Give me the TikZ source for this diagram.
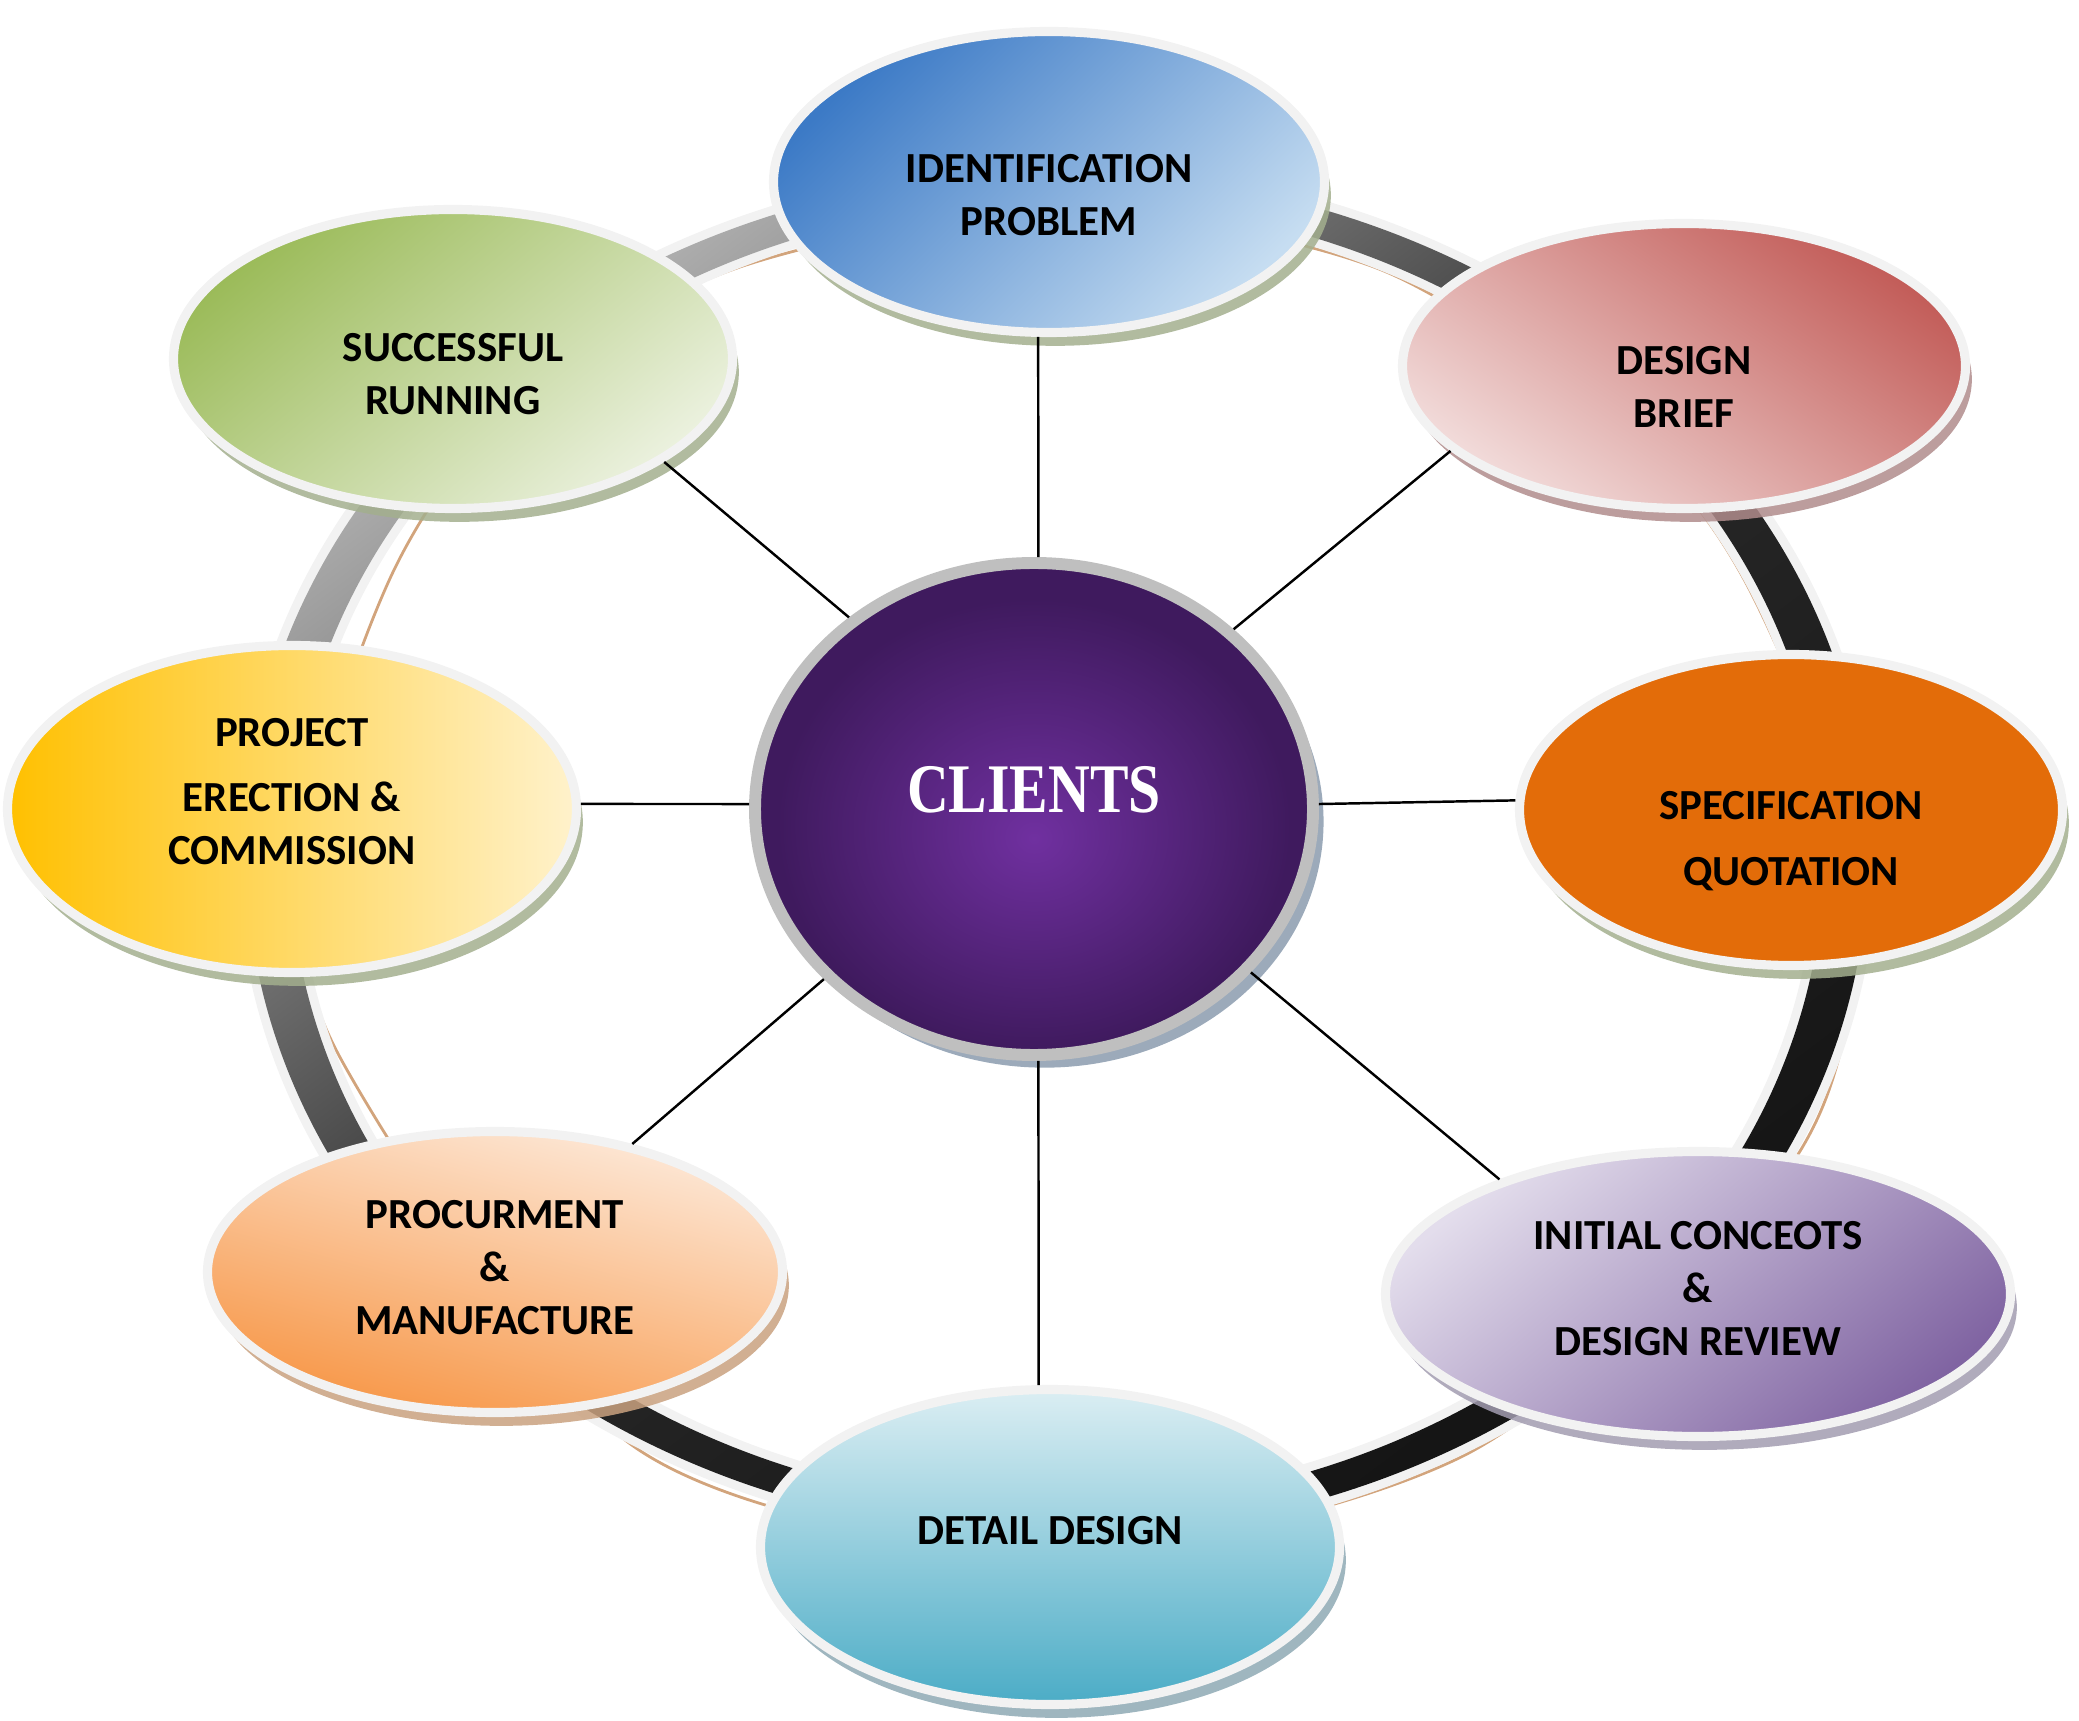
\documentclass[tikz,border=0pt]{standalone}
\usepackage{fontspec}
\usepackage{graphicx}
\setmainfont{Carlito}
\newfontfamily\hubfont{Liberation Serif}
\usetikzlibrary{shapes.geometric, shadows}
\definecolor{rim}{HTML}{F2F2F2}
\definecolor{hubrim}{HTML}{BFBFBF}
\definecolor{hubin}{HTML}{7030A0}
\definecolor{hubout}{HTML}{3F1A5E}
\definecolor{hubshd}{HTML}{91A1B3}
\definecolor{tanline}{HTML}{D2A47C}
\definecolor{ringlight}{HTML}{B1B1B1}
\definecolor{ringmid}{HTML}{282828}
\definecolor{ringdark}{HTML}{141414}
\definecolor{identdark}{HTML}{3C7AC6}
\definecolor{identlight}{HTML}{C6DDF1}
\definecolor{briefdark}{HTML}{C25B57}
\definecolor{brieflight}{HTML}{F2DCDB}
\definecolor{specorange}{HTML}{E36C09}
\definecolor{initlight}{HTML}{E3DDEC}
\definecolor{initdark}{HTML}{8064A2}
\definecolor{detaillight}{HTML}{DBEEF3}
\definecolor{detaildark}{HTML}{4BACC6}
\definecolor{procdark}{HTML}{F79646}
\definecolor{proclight}{HTML}{FDE9D9}
\definecolor{projdark}{HTML}{FFC000}
\definecolor{projlight}{HTML}{FFF2CC}
\definecolor{succdark}{HTML}{9BBB59}
\definecolor{succlight}{HTML}{EBF1DE}
\definecolor{shdolive}{HTML}{A3AF8E}
\definecolor{shdrose}{HTML}{B08C8C}
\definecolor{shdlav}{HTML}{A29CB0}
\definecolor{shdblue}{HTML}{8EA9B4}
\definecolor{shdtan}{HTML}{C9A17F}
\pgfdeclareradialshading{hubglow}{\pgfpoint{0bp}{-3bp}}{color(0bp)=(hubin); color(23bp)=(hubout); color(50bp)=(hubout)}

\begin{document}
\begin{tikzpicture}[
          stage/.style={ellipse, draw=rim, line width=2.6pt, inner sep=0pt},
          shd/.style={drop shadow={shadow xshift=1.8pt, shadow yshift=-3.8pt, fill=#1, opacity=.85}},
          txt/.style={font=\bfseries\fontsize{12.2}{15.1}\selectfont, align=center, inner sep=0pt},
          hub/.style={ellipse, draw=hubrim, line width=3.4pt, inner sep=0pt, shading=hubglow,
                      drop shadow={shadow xshift=3pt, shadow yshift=-3.6pt, fill=hubshd, opacity=.9}},
          spoke/.style={line width=0.7pt, black},
        ]
          \useasboundingbox (0,0) rectangle (20.79,17.20);
          \coordinate (ringc) at (10.57,8.66);
          \draw[tanline, line width=0.8pt] plot[smooth cycle] coordinates {
            (7.43,14.54) (10.57,15.10) (13.79,14.51) (16.28,12.85) (17.46,11.37)
            (18.50,8.71) (18.38,6.59) (17.50,5.05) (14.59,2.62) (10.57,1.69)
            (6.36,2.72) (3.42,6.59) (3.05,8.71) (3.94,11.50) (5.30,13.36)};
          \fill[rim, even odd rule] (ringc) ellipse [x radius=8.20cm, y radius=6.91cm]
            (ringc) ellipse [x radius=7.58cm, y radius=6.45cm];
          \shade[even odd rule, top color=ringlight, bottom color=ringdark, middle color=ringmid,
            shading angle=37] (ringc) ellipse [x radius=8.11cm, y radius=6.82cm]
            (ringc) ellipse [x radius=7.67cm, y radius=6.54cm];

          \node[stage, shd=shdolive, minimum width=5.51cm, minimum height=3.01cm,
            top color=identdark, bottom color=identlight, shading angle=45,
            label={[txt, yshift=-1.3mm]center:{IDENTIFICATION\\PROBLEM}}] (ident) at (10.49,15.38) {};
          \node[stage, shd=shdrose, minimum width=5.63cm, minimum height=2.85cm,
            top color=briefdark, bottom color=brieflight, shading angle=-35,
            label={[txt, yshift=-2.1mm]center:{DESIGN\\BRIEF}}] (brief) at (16.84,13.54) {};
          \node[stage, shd=shdolive, minimum width=5.43cm, minimum height=3.11cm, fill=specorange,
            label={[txt, yshift=-3.1mm]center:{SPECIFICATION\\[3.7pt]QUOTATION}}] (spec) at (17.91,9.10) {};
          \node[stage, shd=shdlav, minimum width=6.25cm, minimum height=2.85cm,
            top color=initlight, bottom color=initdark, shading angle=40,
            label={[txt, yshift=0.5mm]center:{INITIAL CONCEOTS\\\&\\DESIGN REVIEW}}] (initial) at (16.98,4.26) {};
          \node[stage, shd=shdblue, minimum width=5.79cm, minimum height=3.15cm,
            top color=detaillight, bottom color=detaildark,
            label={[txt, yshift=1.6mm]center:{DETAIL DESIGN}}] (detail) at (10.50,1.73) {};
          \node[stage, shd=shdtan, minimum width=5.75cm, minimum height=2.81cm,
            top color=proclight, bottom color=procdark, shading angle=-15,
            label={[txt, yshift=0.4mm]center:{PROCURMENT\\\&\\MANUFACTURE}}] (procur) at (4.95,4.48) {};
          \node[stage, shd=shdolive, minimum width=5.69cm, minimum height=3.27cm,
            left color=projdark, right color=projlight,
            label={[txt, yshift=1.7mm]center:{PROJECT\\[3.4pt]ERECTION \&\\COMMISSION}}] (project) at (2.92,9.11) {};
          \node[stage, shd=shdolive, minimum width=5.59cm, minimum height=2.99cm,
            top color=succdark, bottom color=succlight, shading angle=40,
            label={[txt, yshift=-1.5mm]center:{SUCCESSFUL\\RUNNING}}] (success) at (4.53,13.61) {};
          \node[hub, minimum width=5.58cm, minimum height=4.92cm,
            label={[text=white, inner sep=0pt, yshift=1.9mm]center:{\hubfont\bfseries\fontsize{19.8}{22}\selectfont\scalebox{0.83}[1]{CLIENTS}}}] (hub) at (10.34,9.11) {};

          \draw[spoke] (hub.89) -- (ident.-94);
          \draw[spoke] (hub.42) -- (brief.200);
          \draw[spoke] (hub.1) -- (spec.178);
          \draw[spoke] (hub.-37) -- (initial.150);
          \draw[spoke] (hub.-89) -- (detail.94);
          \draw[spoke] (hub.219) -- (procur.43);
          \draw[spoke] (hub.179) -- (project.1);
          \draw[spoke] (hub.134) -- (success.-26);
        \end{tikzpicture}
\end{document}
